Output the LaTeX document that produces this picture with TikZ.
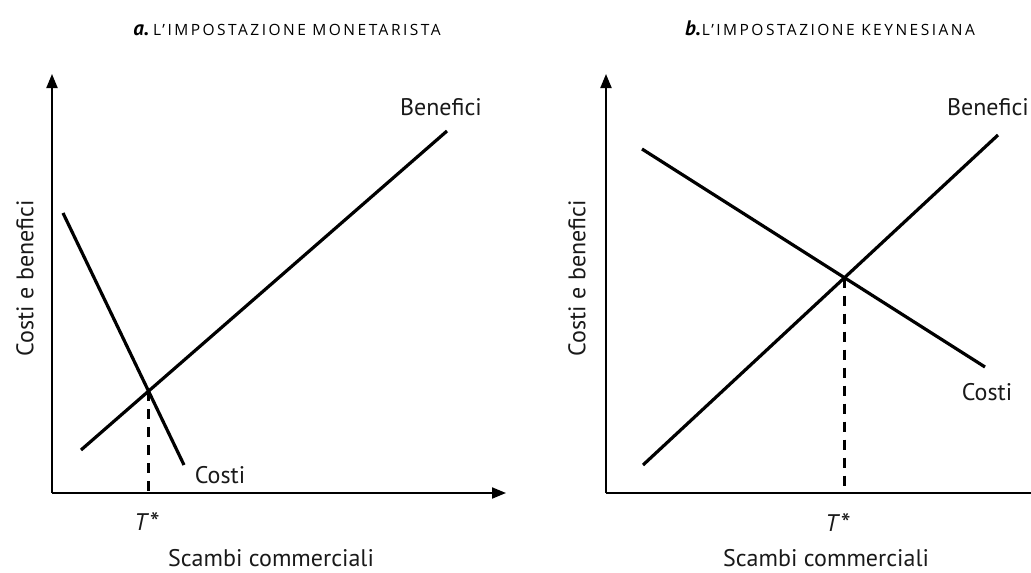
\documentclass[tikz,border=0pt]{standalone}
\usepackage{fontspec}
\setmainfont{PT Sans}
\newfontfamily\capsfont[LetterSpace=16]{Open Sans}
\usetikzlibrary{arrows.meta}
\begin{document}
\begin{tikzpicture}[x=1pt,y=-1pt,
  axis/.style={line width=2pt,-{Triangle[length=14pt,width=11pt]}},
  curve/.style={line width=3.2pt},
  guide/.style={line width=2.2pt,dash pattern=on 10pt off 8pt},
  lbl/.style={inner sep=0pt,anchor=base,font=\fontsize{24}{28}\selectfont,text=black!90},
  ylbl/.style={inner sep=0pt,anchor=center,rotate=90,font=\fontsize{24}{28}\selectfont,text=black!90},
  ttl/.style={inner sep=0pt,anchor=base,text=black}
]
\useasboundingbox (0,0) rectangle (1031,573);

% ---------------- panel a ----------------
\node[ttl] (ta) at (287,35) {{\fontsize{21}{24}\selectfont\bfseries\itshape a.}\kern4pt{\capsfont\fontsize{15.5}{18}\selectfont L’IMPOSTAZIONE MONETARISTA}};
\coordinate (Oa) at (52,493);
\coordinate (Ya) at (52,74);
\coordinate (Xa) at (506,493);
\draw[axis] (Oa) -- (Ya);
\draw[axis] (Oa) -- (Xa);

\coordinate (aC1) at (63,213);
\coordinate (aC2) at (184,465);
\coordinate (aB1) at (81,450);
\coordinate (aB2) at (447,131);
\draw[curve] (aC1) -- (aC2);
\draw[curve] (aB1) -- (aB2);
\coordinate (aI) at (intersection of aC1--aC2 and aB1--aB2);
\draw[guide] (aI) -- (aI |- Oa);

\node[lbl] (aben) at (441,115) {Benefici};
\node[lbl] (acos) at (220,483) {Costi};
\node[lbl] (aT) at (147,530) {\itshape T\kern3pt\raisebox{-2pt}{\fontsize{28}{30}\selectfont\upshape *}};
\node[lbl] (ax) at (271,566) {Scambi commerciali};
\node[ylbl] (ay) at (25,278) {Costi e benefici};

% ---------------- panel b ----------------
\node[ttl] (tb) at (830,35) {{\fontsize{21}{24}\selectfont\bfseries\itshape b.}\kern1pt{\capsfont\fontsize{15.5}{18}\selectfont L’IMPOSTAZIONE KEYNESIANA}};
\coordinate (Ob) at (606,493);
\coordinate (Yb) at (606,74);
\coordinate (Xb) at (1045,493);
\draw[axis] (Ob) -- (Yb);
\draw[axis] (Ob) -- (Xb);

\coordinate (bC1) at (642,149);
\coordinate (bC2) at (985,367);
\coordinate (bB1) at (643,465);
\coordinate (bB2) at (998,135);
\draw[curve] (bC1) -- (bC2);
\draw[curve] (bB1) -- (bB2);
\coordinate (bI) at (intersection of bC1--bC2 and bB1--bB2);
\draw[guide] (bI) -- (bI |- Ob);

\node[lbl,anchor=base east] (bben) at (1029,115) {Benefici};
\node[lbl] (bcos) at (987,400) {Costi};
\node[lbl] (bT) at (838,531) {\itshape T\kern3pt\raisebox{-2pt}{\fontsize{28}{30}\selectfont\upshape *}};
\node[lbl] (bx) at (826,566) {Scambi commerciali};
\node[ylbl] (by) at (577,278) {Costi e benefici};
\end{tikzpicture}
\end{document}
